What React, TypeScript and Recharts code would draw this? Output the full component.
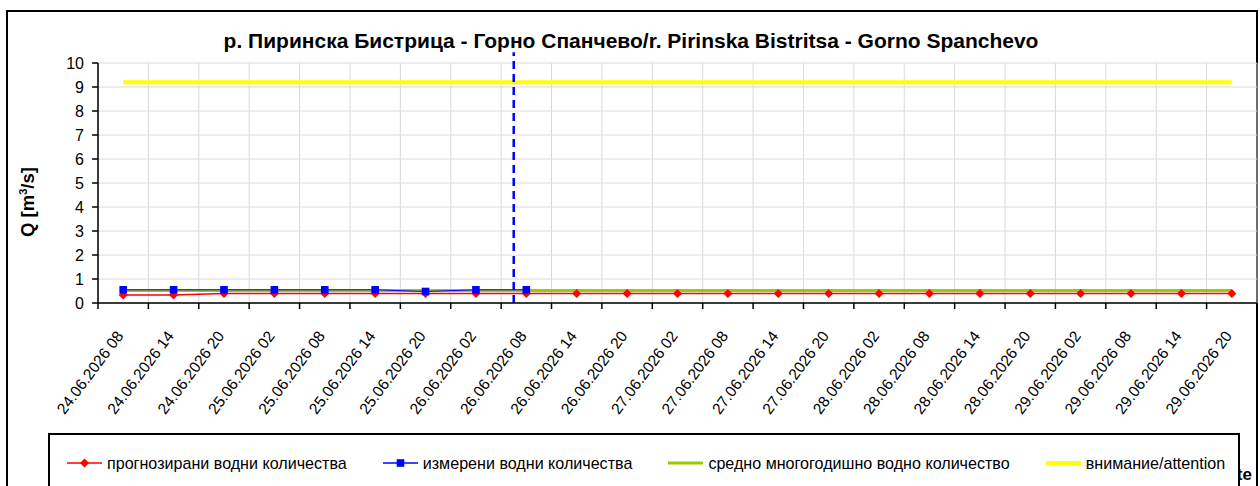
import React from 'react';
import { LineChart, Line, XAxis, YAxis, CartesianGrid, ReferenceLine, Legend } from 'recharts';

const timeLabels = [
  '24.06.2026 08', '24.06.2026 14', '24.06.2026 20',
  '25.06.2026 02', '25.06.2026 08', '25.06.2026 14', '25.06.2026 20',
  '26.06.2026 02', '26.06.2026 08', '26.06.2026 14', '26.06.2026 20',
  '27.06.2026 02', '27.06.2026 08', '27.06.2026 14', '27.06.2026 20',
  '28.06.2026 02', '28.06.2026 08', '28.06.2026 14', '28.06.2026 20',
  '29.06.2026 02', '29.06.2026 08', '29.06.2026 14', '29.06.2026 20',
];

const forecastFlow = [
  0.33, 0.33, 0.4, 0.4, 0.4, 0.4, 0.4, 0.4, 0.4, 0.4, 0.4, 0.4,
  0.4, 0.4, 0.4, 0.4, 0.4, 0.4, 0.4, 0.4, 0.4, 0.4, 0.4,
];
const measuredFlow = [0.55, 0.55, 0.55, 0.55, 0.55, 0.55, 0.48, 0.55, 0.55];
const meanAnnualFlow = 0.52;
const attentionLevel = 9.2;
const yTicks = [0, 1, 2, 3, 4, 5, 6, 7, 8, 9, 10];
// current-time marker, in category units (between 26.06 02 and 26.06 08)
const nowMarker = 8.25;
const nowMarkerTop = 10.45;

const seriesNames = {
  forecast: 'прогнозирани водни количества',
  measured: 'измерени водни количества',
  mean: 'средно многогодишно водно количество',
  attention: 'внимание/attention',
};

const chartTitle = 'р. Пиринска Бистрица - Горно Спанчево/r. Pirinska Bistritsa - Gorno Spanchevo';
const xAxisTitle = 'Date';

const data = timeLabels.map((label, i) => ({
  x: i + 0.5,
  label,
  forecast: forecastFlow[i],
  measured: i < measuredFlow.length ? measuredFlow[i] : null,
  mean: meanAnnualFlow,
  attention: attentionLevel,
}));

const boundaryTicks = [...timeLabels.map((_, i) => i), timeLabels.length];
const labelTicks = data.map((d) => d.x);
const labelByX: Record<string, string> = {};
data.forEach((d) => { labelByX[String(d.x)] = d.label; });

const FONT = 'Arial, "Liberation Sans", sans-serif';

const Diamond = (props: any) => {
  const { cx, cy, index } = props;
  if (cx == null || cy == null) return <g key={`d${index}`} />;
  const r = 4.5;
  return (
    <path key={`d${index}`} d={`M${cx},${cy - r}L${cx + r},${cy}L${cx},${cy + r}L${cx - r},${cy}Z`} fill="#ff0000" />
  );
};

const Square = (props: any) => {
  const { cx, cy, index } = props;
  if (cx == null || cy == null) return <g key={`s${index}`} />;
  const r = 3.8;
  return <rect key={`s${index}`} x={cx - r} y={cy - r} width={2 * r} height={2 * r} fill="#0000ff" />;
};

const XLabel = (props: any) => {
  const { x, y, payload } = props;
  const ax = x + 1;
  const ay = y + 32;
  return (
    <text x={ax} y={ay} textAnchor="end" fontSize={15.5} fontFamily={FONT} fill="#000" transform={`rotate(-53 ${ax} ${ay})`}>
      {labelByX[String(payload.value)]}
    </text>
  );
};

const EmptyTick = () => <g />;

const YTitle = () => (
  <text x={34} y={202} transform="rotate(-90 34 202)" textAnchor="middle" fontSize={18.5} fontWeight="bold" fontFamily={FONT} fill="#000">
    Q [m<tspan dy={-7} fontSize={11}>3</tspan><tspan dy={7}>/s]</tspan>
  </text>
);

const legendItems = [
  { key: 'forecast', color: '#ff0000', marker: 'diamond', width: 1.5 },
  { key: 'measured', color: '#0000ff', marker: 'square', width: 1.5 },
  { key: 'mean', color: '#99cc00', marker: 'none', width: 3 },
  { key: 'attention', color: '#ffff00', marker: 'none', width: 4 },
];

const LegendContent = () => (
  <div style={{ display: 'flex', flexDirection: 'row', alignItems: 'center', gap: 36, paddingLeft: 17, paddingTop: 19, fontFamily: FONT, fontSize: 16.1, color: '#000', lineHeight: '18px' }}>
    {legendItems.map((it) => (
      <div key={it.key} style={{ display: 'flex', alignItems: 'center', whiteSpace: 'nowrap' }}>
        <svg width={35} height={12} style={{ marginRight: 5 }}>
          <line x1={0} y1={6} x2={35} y2={6} stroke={it.color} strokeWidth={it.width} />
          {it.marker === 'diamond' && <path d="M17.5,1.5L22,6L17.5,10.5L13,6Z" fill={it.color} />}
          {it.marker === 'square' && <rect x={13.7} y={2.2} width={7.6} height={7.6} fill={it.color} />}
        </svg>
        <span>{seriesNames[it.key as keyof typeof seriesNames]}</span>
      </div>
    ))}
  </div>
);

export default function App() {
  return (
    <div style={{ position: 'absolute', left: 0, top: 0, width: 1260, height: 486, overflow: 'hidden', background: '#fff', fontFamily: FONT }}>
      <div style={{ position: 'absolute', left: 6, top: 10, width: 1252, height: 490, border: '2px solid #000', boxSizing: 'border-box' }} />
      <div style={{ position: 'absolute', left: 0, top: 28, width: 1262, textAlign: 'center', fontWeight: 'bold', fontSize: 21, lineHeight: '26px', color: '#000' }}>
        {chartTitle}
      </div>
      <div style={{ position: 'absolute', right: 8, top: 466, fontWeight: 'bold', fontSize: 17, lineHeight: '18px', color: '#000', whiteSpace: 'nowrap' }}>{xAxisTitle}</div>
      <div style={{ position: 'absolute', left: 0, top: 0 }}>
        <LineChart width={1260} height={486} data={data} margin={{ top: 63, right: 3, left: 38, bottom: 181 }} style={{ fontFamily: FONT }}>
          <CartesianGrid xAxisId="g" yAxisId="y" stroke="#d9d9d9" strokeWidth={1} />
          <XAxis
            xAxisId="g"
            type="number"
            dataKey="x"
            domain={[0, timeLabels.length]}
            ticks={boundaryTicks}
            interval={0}
            tick={<EmptyTick />}
            tickSize={6}
            height={1}
            axisLine={{ stroke: '#000', strokeWidth: 1.5 }}
            tickLine={{ stroke: '#000', strokeWidth: 1.5 }}
          />
          <XAxis
            xAxisId="l"
            type="number"
            dataKey="x"
            domain={[0, timeLabels.length]}
            ticks={labelTicks}
            interval={0}
            tick={<XLabel />}
            tickSize={0}
            tickMargin={0}
            height={1}
            axisLine={false}
            tickLine={false}
          />
          <YAxis
            yAxisId="y"
            type="number"
            domain={[0, 10]}
            ticks={yTicks}
            interval={0}
            width={60}
            tickSize={6}
            tickMargin={8}
            tick={{ fontSize: 16, fill: '#000', fontFamily: FONT }}
            axisLine={{ stroke: '#000', strokeWidth: 1.5 }}
            tickLine={{ stroke: '#000', strokeWidth: 1.5 }}
            label={{ content: <YTitle /> }}
          />
          <Line xAxisId="g" yAxisId="y" dataKey="attention" name={seriesNames.attention} stroke="#ffff00" strokeWidth={4} dot={false} isAnimationActive={false} />
          <Line xAxisId="g" yAxisId="y" dataKey="mean" name={seriesNames.mean} stroke="#99cc00" strokeWidth={3} dot={false} isAnimationActive={false} />
          <Line xAxisId="g" yAxisId="y" dataKey="forecast" name={seriesNames.forecast} stroke="#ff0000" strokeWidth={1.5} dot={Diamond} activeDot={false} isAnimationActive={false} />
          <Line xAxisId="g" yAxisId="y" dataKey="measured" name={seriesNames.measured} stroke="#0000ff" strokeWidth={1} dot={Square} activeDot={false} isAnimationActive={false} />
          <ReferenceLine
            xAxisId="g"
            yAxisId="y"
            segment={[{ x: nowMarker, y: 0 }, { x: nowMarker, y: nowMarkerTop }]}
            ifOverflow="visible"
            stroke="#0000ff"
            strokeWidth={2.5}
            strokeDasharray="8 5"
          />
          <Legend
            layout="horizontal"
            verticalAlign="middle"
            align="center"
            content={<LegendContent />}
            wrapperStyle={{ position: 'absolute', left: 48, top: 433, width: 1192, height: 70, border: '2px solid #000', background: '#fff', boxSizing: 'border-box', margin: 0 }}
          />
        </LineChart>
      </div>
    </div>
  );
}
